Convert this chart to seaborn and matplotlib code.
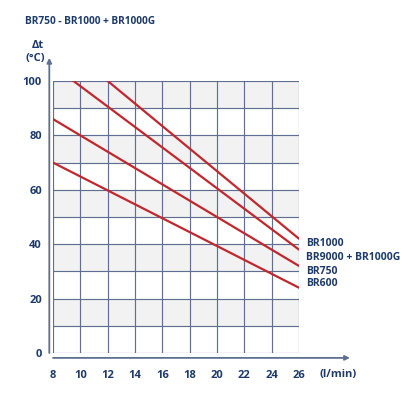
import numpy as np
import pandas as pd
import seaborn as sns
import matplotlib.pyplot as plt

# curve end points: flow (l/min) -> delta t (C)
models = ['BR1000', 'BR9000 + BR1000G', 'BR750', 'BR600']
flow_start = [12, 9.5, 8, 8]
flow_end = [26, 26, 26, 26]
dt_start = [100, 100, 86, 70]
dt_end = [42, 38, 32, 24]

x_ticks = [8, 10, 12, 14, 16, 18, 20, 22, 24, 26]
y_ticks = [0, 20, 40, 60, 80, 100]

rows = []
for m, x0, x1, y0, y1 in zip(models, flow_start, flow_end, dt_start, dt_end):
    rows.append({'model': m, 'flow': x0, 'dt': y0})
    rows.append({'model': m, 'flow': x1, 'dt': y1})
df = pd.DataFrame(rows)

navy = '#1d3a6b'
gridc = '#5f6f8f'
red = '#c1272d'

sns.set_style('white')
plt.rcParams['font.family'] = ['Open Sans', 'DejaVu Sans']

fig = plt.figure(figsize=(4.2, 4.2), dpi=100)
ax = fig.add_axes([53/420, 1-353/420, 246/420, 272/420])

# shaded bands
for y in range(10, 100, 20):
    ax.axhspan(y, y + 10, color='#f2f2f2', zorder=0, lw=0)
for x in range(8, 27, 2):
    ax.axvline(x, color=gridc, lw=0.85, zorder=1)
for y in range(0, 101, 10):
    ax.axhline(y, color=gridc, lw=0.85, zorder=1)

sns.lineplot(data=df, x='flow', y='dt', units='model', estimator=None,
             color=red, lw=1.6, ax=ax, zorder=3)

ax.set_xlim(8, 26)
ax.set_ylim(0, 100)
ax.set_xticks(x_ticks)
ax.set_yticks(y_ticks)
ax.set_xlabel('')
ax.set_ylabel('')
for s in ax.spines.values():
    s.set_visible(False)
ax.tick_params(length=0, labelcolor=navy, labelsize=8)
for lab in ax.get_xticklabels() + ax.get_yticklabels():
    lab.set_fontweight('bold')
ax.tick_params(axis='x', pad=12)
ax.tick_params(axis='y', pad=8)

# axis arrows, offset from the plot area
ax.annotate('', xy=(-0.015, 1.085), xytext=(-0.015, 0), xycoords='axes fraction',
            arrowprops=dict(arrowstyle='-|>', color=gridc, lw=1.3,
                            mutation_scale=7, shrinkA=0, shrinkB=0), annotation_clip=False)
ax.annotate('', xy=(1.207, -0.018), xytext=(0, -0.018), xycoords='axes fraction',
            arrowprops=dict(arrowstyle='-|>', color=gridc, lw=1.3,
                            mutation_scale=7, shrinkA=0, shrinkB=0), annotation_clip=False)

# series labels at the right end
label_y = [243, 257, 271, 284]
for m, py in zip(models, label_y):
    fig.text(306/420, 1 - py/420, m, color=navy, fontsize=7.5,
             fontweight='bold', va='center', ha='left')

fig.text(338/420, 1 - 375/420, '(l/min)', color=navy, fontsize=8,
         fontweight='bold', va='center', ha='center')
fig.text(38/420, 1 - 45/420, 'Δt', color=navy, fontsize=8,
         fontweight='bold', va='center', ha='center')
fig.text(35/420, 1 - 59/420, '(°C)', color=navy, fontsize=8,
         fontweight='bold', va='center', ha='center')
fig.text(25/420, 1 - 21/420, 'BR750 - BR1000 + BR1000G', color=navy, fontsize=7.3,
         fontweight='bold', va='center', ha='left')

fig.savefig('out.png', dpi=100, facecolor='white')
